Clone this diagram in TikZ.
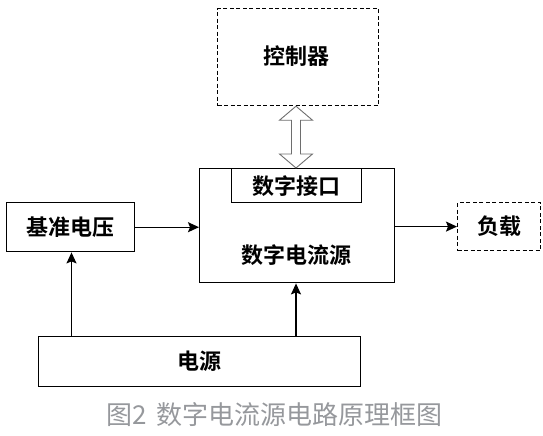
\documentclass[tikz,border=0pt]{standalone}
\usepackage{fontspec}
\newfontfamily\cjk{Noto Sans CJK SC}[BoldFont={Noto Sans CJK SC Bold}]
\usetikzlibrary{arrows.meta,calc}
\definecolor{capgray}{RGB}{150,152,156}
\definecolor{dblgray}{RGB}{110,110,110}
\tikzset{
  blk/.style={draw=black, line width=1.4pt, inner sep=0pt},
  dblk/.style={draw=black, line width=1.2pt, dash pattern=on 4pt off 2.5pt, inner sep=0pt},
  lbl/.style={font=\cjk\bfseries\fontsize{22}{26}\selectfont, text=black},
  conn/.style={line width=1.3pt, -{Stealth[length=11pt,width=10pt,inset=2pt]}},
}
\begin{document}
\begin{tikzpicture}[x=1pt,y=-1pt]
\useasboundingbox (0,0) rectangle (543,436);
% boxes
\node[dblk, minimum width=161pt, minimum height=97pt, anchor=north west] (ctrl) at (217,8) {};
\node[lbl] (ctrlt) at (296,56) {控制器};
\node[blk, minimum width=195pt, minimum height=114pt, anchor=north west] (main) at (199,168) {};
\node[blk, minimum width=130pt, minimum height=34pt, anchor=north west] (intf) at (231,168) {};
\node[lbl] (intft) at (intf.center) {数字接口};
\node[lbl] (maint) at (296,255) {数字电流源};
\node[blk, minimum width=128pt, minimum height=49pt, anchor=north west] (ref) at (6,202) {};
\node[lbl] (reft) at (ref.center) {基准电压};
\node[dblk, minimum width=83pt, minimum height=48pt, anchor=north west] (load) at (457,202) {};
\node[lbl] (loadt) at (load.center) {负载};
\node[blk, minimum width=322pt, minimum height=50pt, anchor=north west] (pwr) at (38,336) {};
\node[lbl] (pwrt) at (pwr.center) {电源};
% connectors
\draw[conn] (ref.east) -- (ref.east -| main.west);
\draw[conn] (load.west -| main.east) -- (load.west);
\draw[conn] (pwr.north -| 71.5,0) -- (ref.south -| 71.5,0);
\draw[conn] (pwr.north -| 296,0) -- (main.south -| 296,0);
% hollow double arrow
\coordinate (dtop) at (ctrl.south -| 296,0);
\coordinate (dbot) at (main.north -| 296,0);
\draw[dblgray, line width=0.9pt, fill=white, line join=miter]
  (dtop) -- ++(16.5,14) -- ++(-12,0) -- ($(dbot)+(4.5,-14)$) -- ++(12,0) -- (dbot)
  -- ++(-16.5,-14) -- ++(12,0) -- ($(dtop)+(-4.5,14)$) -- ++(-12,0) -- cycle;
% caption
\node[font=\cjk\fontsize{26}{30}\selectfont, text=capgray, anchor=west] (cap) at (103,415) {图2\hspace{4pt} 数字电流源电路原理框图};
\end{tikzpicture}
\end{document}
